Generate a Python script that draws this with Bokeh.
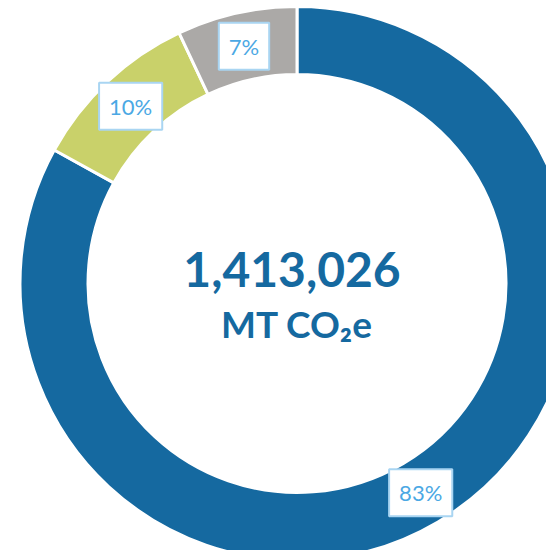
import math
from bokeh.plotting import figure
from bokeh.models import Range1d, ColumnDataSource
from bokeh.core.properties import value
from bokeh.embed import file_html
from bokeh.resources import INLINE

# ---- data ----
categories = ["Category A", "Category B", "Category C"]
shares = [83, 10, 7]
colors = ["#1569A0", "#C9D16A", "#ABA9A7"]
labels = ["83%", "10%", "7%"]
total_text = "1,413,026"
unit_text = "MT CO\u2082e"

# ---- geometry (pixel-like data units) ----
cx, cy = 296.5, -283.0
r_out, r_in, r_lab = 277.0, 209.0, 243.0

tot = float(sum(shares))
starts, ends, lx, ly = [], [], [], []
cum = 0.0
for s in shares:
    a0 = math.pi / 2 - 2 * math.pi * cum / tot
    cum += s
    a1 = math.pi / 2 - 2 * math.pi * cum / tot
    starts.append(a0)
    ends.append(a1)
    am = (a0 + a1) / 2
    lx.append(cx + r_lab * math.cos(am))
    ly.append(cy + r_lab * math.sin(am))

src = ColumnDataSource(dict(cat=categories, val=shares, color=colors,
                            start=starts, end=ends, lx=lx, ly=ly, lab=labels))

p = figure(width=546, height=550, output_backend="svg", toolbar_location=None,
           x_range=Range1d(0, 546), y_range=Range1d(-550, 0), min_border=0)
p.axis.visible = False
p.grid.visible = False
p.outline_line_color = None
p.background_fill_color = "white"

p.annular_wedge(x=cx, y=cy, inner_radius=r_in, outer_radius=r_out,
                start_angle="start", end_angle="end", direction="clock",
                fill_color="color", line_color="white", line_width=3, source=src)

p.text(x="lx", y="ly", text="lab", source=src, text_font=value("Lato"),
       text_font_size="22px", text_color="#4BA8E4", text_align="center",
       text_baseline="middle", background_fill_color="white",
       border_line_color="#A9D5F2", border_line_width=2,
       padding=dict(left=10, right=10, top=10, bottom=10))

p.text(x=[cx - 5], y=[-269], text=[total_text], text_font=value("Lato"),
       text_font_size="48px", text_font_style="bold", text_color="#1569A0",
       text_align="center", text_baseline="alphabetic")
p.text(x=[cx], y=[-323], text=[unit_text], text_font=value("Lato"),
       text_font_size="37px", text_font_style="bold", text_color="#1569A0",
       text_align="center", text_baseline="alphabetic")

open("out.html", "w").write(file_html(p, INLINE))
